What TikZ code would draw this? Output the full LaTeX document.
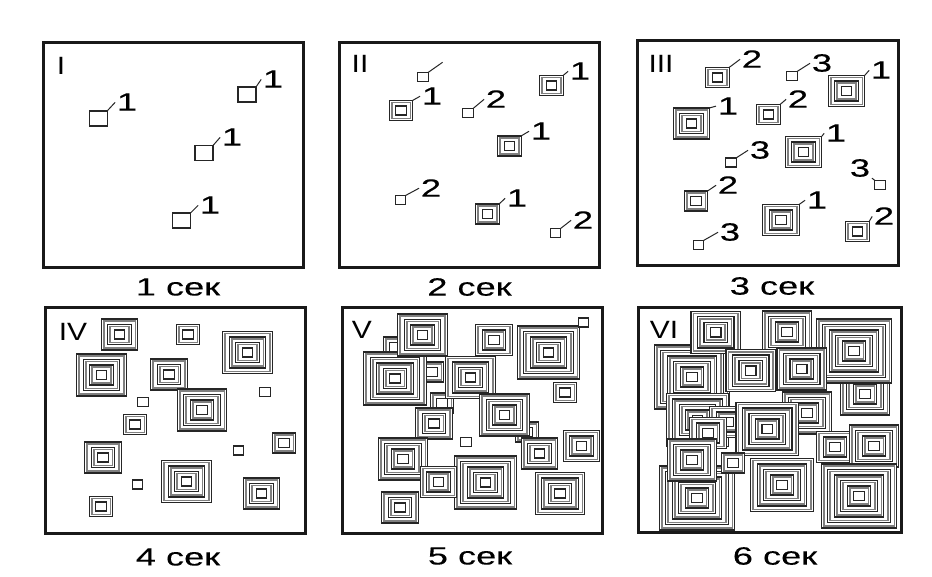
\documentclass[tikz,border=0pt]{standalone}
\usepackage{fontspec}
\setmainfont{Liberation Sans}
\newfontfamily\heavyfont{Liberation Sans}[FakeBold=0.1]
\tikzset{
 panelframe/.style={line width=3pt, black!90},
 ringblack/.style={line width=1.35pt, black!85},
 ringgrey/.style={line width=1.6pt, black!50},
 sqline/.style={line width=1.4pt, black!85},
 leader/.style={line width=1pt, black!85, shorten >=0.5pt},
 lab/.style={font=\heavyfont\fontsize{25}{25}\selectfont, xscale=1.45, inner sep=0.8pt},
 captext/.style={font=\heavyfont\fontsize{25}{25}\selectfont, xscale=1.45, inner sep=0pt},
 roman/.style={font=\fontsize{25}{25}\selectfont, xscale=1.2, inner sep=0pt},
}
\def\aone{5.2}\def\bone{4.6}\def\stepa{6.5}\def\stepb{5.5}
\newcommand{\colony}[4]{%
 \foreach \r in {#4,...,1}{%
  \pgfmathsetmacro{\colA}{\aone+(\r-1)*\stepa}%
  \pgfmathsetmacro{\colB}{\bone+(\r-1)*\stepb}%
  \fill[white] ({#2-\colA},{#3-\colB}) rectangle ({#2+\colA},{#3+\colB});%
  \draw[ringblack] ({#2-\colA},{#3-\colB}) rectangle ({#2+\colA},{#3+\colB});%
  \ifnum\r>1 \draw[ringgrey] ({#2-\colA+2.4},{#3-\colB+2.2}) rectangle ({#2+\colA-2.4},{#3+\colB-2.2});\fi
 }%
 \pgfmathsetmacro{\colA}{\aone+(#4-1)*\stepa}%
 \pgfmathsetmacro{\colB}{\bone+(#4-1)*\stepb}%
 \coordinate (#1) at ({#2+\colA},{#3-\colB});%
 \coordinate (#1-tl) at ({#2-\colA},{#3-\colB});%
}
\newcommand{\sqone}[3]{%
 \draw[sqline,fill=white] ({#2-9},{#3-7.5}) rectangle ({#2+9},{#3+7.5});%
 \coordinate (#1) at ({#2+9},{#3-7.5});%
}
\newcommand{\lbl}[4]{%
 \node[lab] (#1-l) at (#2,#3) {#4};%
 \draw[leader] (#1) -- (#1-l.west);%
}
\begin{document}
\begin{tikzpicture}[x=1pt,y=-1pt]
\useasboundingbox (0,0) rectangle (932,576);
\fill[white] (0,0) rectangle (932,576);

% ---------- Panel I ----------
\sqone{a1}{98.3}{118.3} \lbl{a1}{127}{102}{1}
\sqone{a2}{247}{94.5}   \lbl{a2}{273}{79}{1}
\sqone{a3}{204}{153}    \lbl{a3}{232}{137}{1}
\sqone{a4}{181.5}{220.5}\lbl{a4}{210}{205}{1}
\node[roman] (r1) at (61,66) {I};
\draw[panelframe] (43,42) rectangle (303,267);
\node[captext] (t1) at (178,287) {1 сек};

% ---------- Panel II ----------
\colony{b1}{423}{77}{1}
\coordinate (b1e) at (443,62);
\draw[leader] (b1) -- (b1e);
\colony{b2}{401}{110.5}{2} \lbl{b2}{432}{96}{1}
\colony{b3}{468}{113}{1}   \lbl{b3}{496}{99}{2}
\colony{b4}{551.5}{85.5}{2}\lbl{b4}{580}{71}{1}
\colony{b5}{509.5}{146}{2} \lbl{b5}{541}{131}{1}
\colony{b6}{400.5}{200}{1} \lbl{b6}{431}{188}{2}
\colony{b7}{487.5}{214}{2} \lbl{b7}{517}{198}{1}
\colony{b8}{555.5}{233}{1} \lbl{b8}{583}{220}{2}
\node[roman] (r2) at (360,64) {II};
\draw[panelframe] (339,42) rectangle (599,267);
\node[captext] (t2) at (469.5,287) {2 сек};

% ---------- Panel III ----------
\colony{c1}{717.5}{77.5}{2} \lbl{c1}{752}{59}{2}
\colony{c2}{792}{76}{1}     \lbl{c2}{822}{63}{3}
\colony{c3}{846.5}{91}{3}   \lbl{c3}{881}{70}{1}
\colony{c4}{691.5}{123.5}{3}\lbl{c4}{728}{106}{1}
\colony{c5}{768.5}{114.5}{2}\lbl{c5}{798}{99}{2}
\colony{c6}{731}{162.5}{1}  \lbl{c6}{760}{150}{3}
\colony{c7}{803.5}{152}{3}  \lbl{c7}{836}{133}{1}
\colony{c8}{880}{185}{1}
\node[lab] (c8-l) at (860,168) {3};
\draw[leader] (c8-tl) -- (c8-l.south east);
\colony{c9}{696}{201}{2}    \lbl{c9}{728}{185}{2}
\colony{c10}{781}{220}{3}   \lbl{c10}{817}{200}{1}
\colony{c11}{857.5}{231.5}{2}\lbl{c11}{884}{216}{2}
\colony{c12}{698.5}{245}{1} \lbl{c12}{730}{232}{3}
\node[roman] (r3) at (661,64) {III};
\draw[panelframe] (637,40) rectangle (898,265);
\node[captext] (t3) at (772,286) {3 сек};

% ---------- Panel IV ----------
\colony{d1}{119.5}{334.5}{3}
\colony{d2}{188}{334.5}{2}
\colony{d3}{247.5}{352.5}{4}
\colony{d4}{101.5}{375}{4}
\colony{d5}{169}{374.5}{3}
\colony{d6}{202}{410}{4}
\colony{d7}{265}{392}{1}
\colony{d8}{143}{402}{1}
\colony{d9}{135}{424.5}{2}
\colony{d10}{103}{457.5}{3}
\colony{d11}{284}{443}{2}
\colony{d12}{238.5}{450.5}{1}
\colony{d13}{186.5}{481.5}{4}
\colony{d14}{137.5}{484.5}{1}
\colony{d15}{261.5}{493.5}{3}
\colony{d16}{101}{506.5}{2}
\node[roman] (r4) at (73,332) {IV};
\draw[panelframe] (45,307) rectangle (305,533);
\node[captext] (t4) at (178,557) {4 сек};

% ---------- Panel V ----------
\begin{scope}
\clip (342,307) rectangle (602,533);
\colony{e0a}{395}{347}{2}
\colony{e0b}{432}{372}{2}
\colony{e0c}{527}{432}{2}
\colony{e0d}{442}{403}{2}
\colony{e1}{395}{378.5}{5}
\colony{e2}{422.5}{335}{4}
\colony{e3}{494}{340}{3}
\colony{e4}{548.5}{352.5}{5}
\colony{e5}{583.5}{322.5}{1}
\colony{e6}{470.5}{377.5}{4}
\colony{e7}{504.5}{415}{4}
\colony{e8}{565}{392.5}{2}
\colony{e9}{434}{423.5}{3}
\colony{e10}{403}{459}{4}
\colony{e11}{466}{442}{1}
\colony{e12}{581.5}{446}{3}
\colony{e13}{539.5}{453.5}{3}
\colony{e14}{485.5}{482.5}{5}
\colony{e15}{438.5}{482}{3}
\colony{e16}{560}{493.5}{4}
\colony{e17}{400}{507.5}{3}
\end{scope}
\node[roman] (r5) at (362,330) {V};
\draw[panelframe] (342,307) rectangle (602,533);
\node[captext] (t5) at (470,556) {5 сек};

% ---------- Panel VI ----------
\begin{scope}
\clip (638,307) rectangle (901,532);
\colony{f18}{807}{413}{4}
\colony{f7}{865}{394}{4}
\colony{f3}{854}{351}{6}
\colony{f2}{787}{332}{4}
\colony{f4}{692}{377}{6}
\colony{f1}{715.7}{332.3}{4}
\colony{f5}{750.7}{370.7}{4}
\colony{f6}{801.7}{369}{4}
\colony{f9}{697.5}{420}{5}
\colony{f10a}{728}{422}{3}
\colony{f10b}{708}{433}{3}
\colony{f8}{767.3}{429}{5}
\colony{f12}{697}{498}{6}
\colony{f11}{692}{460}{4}
\colony{f17}{733}{463}{2}
\colony{f13}{782}{485}{5}
\colony{f14}{835}{447}{3}
\colony{f15}{874}{446}{4}
\colony{f16}{859}{496}{6}
\end{scope}
\node[roman] (r6) at (664,330) {VI};
\draw[panelframe] (638,307) rectangle (901,532);
\node[captext] (t6) at (775,556) {6 сек};
\end{tikzpicture}
\end{document}
